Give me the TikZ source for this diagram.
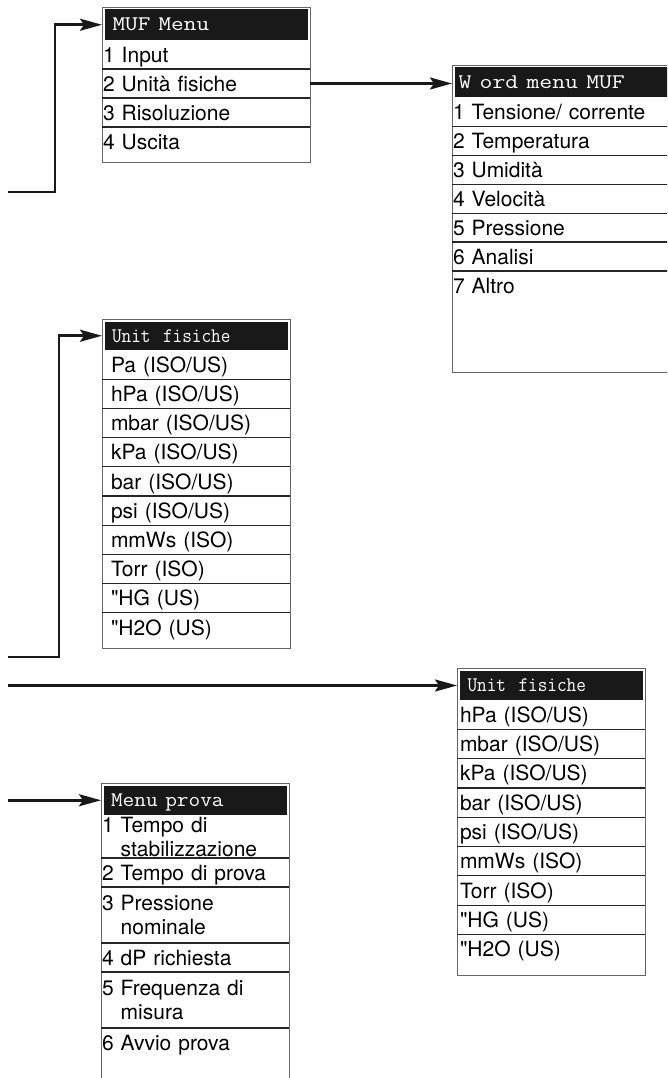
\documentclass[tikz,border=0pt]{standalone}
\usepackage{fontspec}
\usepackage{graphicx}
\newfontfamily\itemfamily{TeX Gyre Heros}
\usepackage{tikz}
\usetikzlibrary{arrows.meta, positioning}

\newcommand\menutext[2]{\scalebox{#1}[1]{#2}}
\newcommand\itemfont{\itemfamily\fontsize{21}{24}\selectfont}

\begin{document}
\begin{tikzpicture}[x=1pt, y=-1pt,
    menuframe/.style={draw=black!60, line width=0.9pt, anchor=north west, inner sep=0pt, outer sep=0pt},
    headbar/.style={fill=black!90, text=white, anchor=north west, inner ysep=0pt, outer sep=0pt, align=left, font=\ttfamily\fontsize{20.8}{24}\selectfont, text height=13pt, text depth=0.5pt},
    item/.style={anchor=north west, inner ysep=0pt, outer sep=0pt, align=left, font=\itemfont, text height=16pt, text depth=0.6pt},
    twoline/.style={item, text depth=24.6pt},
    rule/.style={draw=black!85, line width=1.2pt},
    link/.style={-{Stealth[length=22pt, width=12pt, inset=4pt]}, line width=2.6pt, draw=black!90}]
    \clip (0,0) rectangle (667,1078);

    % MUF menu
    \node[menuframe, minimum width=208pt, minimum height=155pt] (muf) at (102,7) {};
    \node[headbar, text width=187pt, inner xsep=8pt, minimum height=30.5pt] (mufhead) at (104.5,9.5) {\menutext{1.18}{MUF Menu}};
    \node[item, text width=206pt, inner xsep=1pt, minimum height=29pt] (muf1) at (102,40) {1 Input};
    \node[item, text width=206pt, inner xsep=1pt, minimum height=29pt] (muf2) at (102,69) {2 Unità fisiche};
    \node[item, text width=206pt, inner xsep=1pt, minimum height=29pt] (muf3) at (102,98) {3 Risoluzione};
    \node[item, text width=206pt, inner xsep=1pt, minimum height=29pt] (muf4) at (102,127) {4 Uscita};
    \draw[rule] (muf1.south west) -- (muf1.south east);
    \draw[rule] (muf2.south west) -- (muf2.south east);
    \draw[rule] (muf3.south west) -- (muf3.south east);

    % word menu
    \node[menuframe, minimum width=260pt, minimum height=307pt] (word) at (452,65) {};
    \node[headbar, text width=247pt, inner xsep=4pt, minimum height=30pt] (wordhead) at (454.5,67.5) {\menutext{1.2}{W ord menu MUF}};
    \node[item, text width=258pt, inner xsep=1pt, minimum height=28.9pt] (word1) at (452,97.5) {1 Tensione/ corrente};
    \node[item, text width=258pt, inner xsep=1pt, minimum height=28.9pt] (word2) at (452,126.4) {2 Temperatura};
    \node[item, text width=258pt, inner xsep=1pt, minimum height=28.9pt] (word3) at (452,155.3) {3 Umidità};
    \node[item, text width=258pt, inner xsep=1pt, minimum height=28.9pt] (word4) at (452,184.2) {4 Velocità};
    \node[item, text width=258pt, inner xsep=1pt, minimum height=28.9pt] (word5) at (452,213.1) {5 Pressione};
    \node[item, text width=258pt, inner xsep=1pt, minimum height=28.9pt] (word6) at (452,242.0) {6 Analisi};
    \node[item, text width=258pt, inner xsep=1pt, minimum height=28.9pt] (word7) at (452,270.9) {7 Altro};
    \draw[rule] (word1.south west) -- (word1.south east);
    \draw[rule] (word2.south west) -- (word2.south east);
    \draw[rule] (word3.south west) -- (word3.south east);
    \draw[rule] (word4.south west) -- (word4.south east);
    \draw[rule] (word5.south west) -- (word5.south east);
    \draw[rule] (word6.south west) -- (word6.south east);

    % units, left
    \node[menuframe, minimum width=188pt, minimum height=329pt] (units) at (102,319) {};
    \node[headbar, text width=168pt, inner xsep=7.5pt, minimum height=28.5pt] (unitshead) at (104.5,321.5) {\menutext{0.9}{Unit\ \ fisiche}};
    \node[item, text width=170pt, inner xsep=9pt, minimum height=29.2pt] (units1) at (102,350.0) {Pa (ISO/US)};
    \node[item, text width=170pt, inner xsep=9pt, minimum height=29.2pt] (units2) at (102,379.2) {hPa (ISO/US)};
    \node[item, text width=170pt, inner xsep=9pt, minimum height=29.2pt] (units3) at (102,408.4) {mbar (ISO/US)};
    \node[item, text width=170pt, inner xsep=9pt, minimum height=29.2pt] (units4) at (102,437.6) {kPa (ISO/US)};
    \node[item, text width=170pt, inner xsep=9pt, minimum height=29.2pt] (units5) at (102,466.8) {bar (ISO/US)};
    \node[item, text width=170pt, inner xsep=9pt, minimum height=29.2pt] (units6) at (102,496.0) {psi (ISO/US)};
    \node[item, text width=170pt, inner xsep=9pt, minimum height=29.2pt] (units7) at (102,525.2) {mmWs (ISO)};
    \node[item, text width=170pt, inner xsep=9pt, minimum height=29.2pt] (units8) at (102,554.4) {Torr (ISO)};
    \node[item, text width=170pt, inner xsep=9pt, minimum height=29.2pt] (units9) at (102,583.6) {"HG (US)};
    \node[item, text width=170pt, inner xsep=9pt, minimum height=29.2pt] (units10) at (102,612.8) {"H2O (US)};
    \draw[rule] (units1.south west) -- (units1.south east);
    \draw[rule] (units2.south west) -- (units2.south east);
    \draw[rule] (units3.south west) -- (units3.south east);
    \draw[rule] (units4.south west) -- (units4.south east);
    \draw[rule] (units5.south west) -- (units5.south east);
    \draw[rule] (units6.south west) -- (units6.south east);
    \draw[rule] (units7.south west) -- (units7.south east);
    \draw[rule] (units8.south west) -- (units8.south east);
    \draw[rule] (units9.south west) -- (units9.south east);

    % units, right
    \node[menuframe, minimum width=188pt, minimum height=307pt] (unitsb) at (457,668) {};
    \node[headbar, text width=167pt, inner xsep=8pt, minimum height=29.5pt] (unitsbhead) at (459.5,670.5) {\menutext{0.9}{Unit\ \ fisiche}};
    \node[item, text width=182pt, inner xsep=3pt, minimum height=29.3pt] (unitsb1) at (457,700.0) {hPa (ISO/US)};
    \node[item, text width=182pt, inner xsep=3pt, minimum height=29.3pt] (unitsb2) at (457,729.3) {mbar (ISO/US)};
    \node[item, text width=182pt, inner xsep=3pt, minimum height=29.3pt] (unitsb3) at (457,758.6) {kPa (ISO/US)};
    \node[item, text width=182pt, inner xsep=3pt, minimum height=29.3pt] (unitsb4) at (457,787.9) {bar (ISO/US)};
    \node[item, text width=182pt, inner xsep=3pt, minimum height=29.3pt] (unitsb5) at (457,817.2) {psi (ISO/US)};
    \node[item, text width=182pt, inner xsep=3pt, minimum height=29.3pt] (unitsb6) at (457,846.5) {mmWs (ISO)};
    \node[item, text width=182pt, inner xsep=3pt, minimum height=29.3pt] (unitsb7) at (457,875.8) {Torr (ISO)};
    \node[item, text width=182pt, inner xsep=3pt, minimum height=29.3pt] (unitsb8) at (457,905.1) {"HG (US)};
    \node[item, text width=182pt, inner xsep=3pt, minimum height=29.3pt] (unitsb9) at (457,934.4) {"H2O (US)};
    \draw[rule] (unitsb1.south west) -- (unitsb1.south east);
    \draw[rule] (unitsb2.south west) -- (unitsb2.south east);
    \draw[rule] (unitsb3.south west) -- (unitsb3.south east);
    \draw[rule] (unitsb4.south west) -- (unitsb4.south east);
    \draw[rule] (unitsb5.south west) -- (unitsb5.south east);
    \draw[rule] (unitsb6.south west) -- (unitsb6.south east);
    \draw[rule] (unitsb7.south west) -- (unitsb7.south east);
    \draw[rule] (unitsb8.south west) -- (unitsb8.south east);

    % test menu
    \node[menuframe, minimum width=188pt, minimum height=320pt] (prova) at (101,783) {};
    \node[headbar, text width=168pt, inner xsep=7.5pt, minimum height=29.5pt] (provahead) at (103.5,785.5) {\menutext{1.09}{Menu prova}};
    \node[twoline, text width=186pt, inner xsep=1pt, minimum height=43pt] (prova1) at (101,815) {1 Tempo di\\\phantom{1 }stabilizzazione};
    \node[item, text width=186pt, inner xsep=1pt, minimum height=29pt] (prova2) at (101,858) {2 Tempo di prova};
    \node[twoline, text width=186pt, inner xsep=1pt, minimum height=56pt] (prova3) at (101,887) {3 Pressione\\\phantom{3 }nominale};
    \node[item, text width=186pt, inner xsep=1pt, minimum height=29pt] (prova4) at (101,943) {4 dP richiesta};
    \node[twoline, text width=186pt, inner xsep=1pt, minimum height=56pt] (prova5) at (101,972) {5 Frequenza di\\\phantom{5 }misura};
    \node[item, text width=186pt, inner xsep=1pt, minimum height=29pt] (prova6) at (101,1028) {6 Avvio prova};
    \draw[rule] (prova1.south west) -- (prova1.south east);
    \draw[rule] (prova2.south west) -- (prova2.south east);
    \draw[rule] (prova3.south west) -- (prova3.south east);
    \draw[rule] (prova4.south west) -- (prova4.south east);
    \draw[rule] (prova5.south west) -- (prova5.south east);

    % arrows
    \coordinate (in1) at (8,192);
    \coordinate (in3) at (8,657);
    \coordinate (in4) at (8,685.5);
    \coordinate (in5) at (8,800.25);
    \draw[link] (in1) -- ++(47,0) |- (muf.west |- mufhead);
    \draw[link] (muf.east |- muf2) -- (word.west |- muf2);
    \draw[link] (in3) -- ++(51,0) |- (units.west |- unitshead);
    \draw[link] (in4) -- (in4 -| unitsb.west);
    \draw[link] (in5) -- (in5 -| prova.west);
\end{tikzpicture}
\end{document}
